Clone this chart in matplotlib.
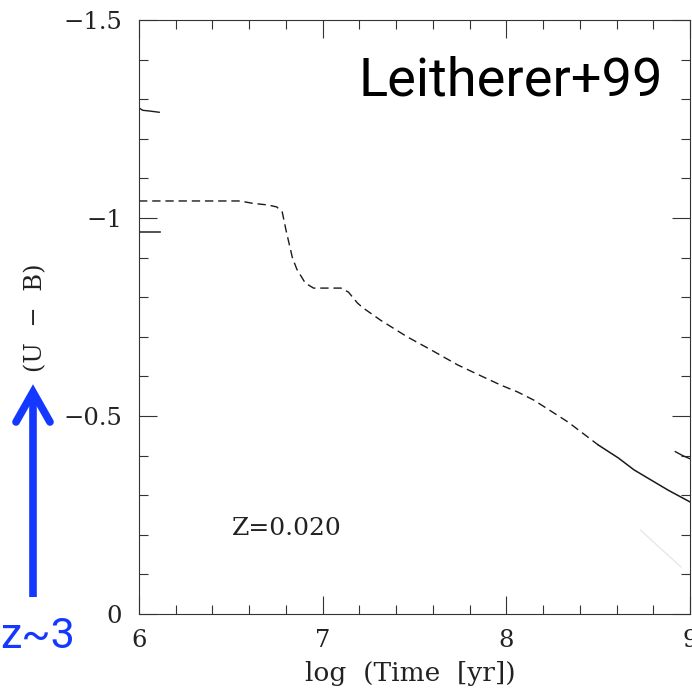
import matplotlib
matplotlib.use("Agg")
import matplotlib.pyplot as plt
from matplotlib.lines import Line2D
from matplotlib.ticker import MultipleLocator, FuncFormatter

# U-B colour evolution of a Z=0.020 population (log age in years)
log_t_dashed = [6.00, 6.55, 6.62, 6.70, 6.75, 6.78, 6.80, 6.835, 6.86, 6.905,
                6.95, 7.10, 7.14, 7.19, 7.22, 7.315, 7.46, 7.59, 7.735, 7.877,
                7.97, 8.06, 8.15, 8.335, 8.50]
ub_dashed = [-1.043, -1.043, -1.037, -1.033, -1.028, -1.015, -0.970, -0.900,
             -0.870, -0.836, -0.823, -0.823, -0.813, -0.785, -0.773, -0.742,
             -0.700, -0.667, -0.629, -0.598, -0.578, -0.561, -0.540, -0.485,
             -0.427]
log_t_solid = [8.50, 8.61, 8.695, 8.88, 9.00]
ub_solid = [-0.427, -0.394, -0.364, -0.313, -0.283]

# short pieces of neighbouring tracks at the plot edges
log_t_piece_a = [6.00, 6.02, 6.06, 6.11]
ub_piece_a = [-1.278, -1.272, -1.270, -1.267]
log_t_piece_b = [6.00, 6.115]
ub_piece_b = [-0.965, -0.965]
log_t_piece_c = [8.92, 8.96, 9.00]
ub_piece_c = [-0.410, -0.400, -0.392]
log_t_faint = [8.73, 8.95]
ub_faint = [-0.212, -0.119]

x_ticks = [6, 7, 8, 9]
y_ticks = [-1.5, -1.0, -0.5, 0.0]

W, H = 692, 688
fig = plt.figure(figsize=(W / 100, H / 100), dpi=100)
fig.patch.set_facecolor("white")

ax_l, ax_r, ax_t, ax_b = 139, 690, 20, 614
ax = fig.add_axes([ax_l / W, 1 - ax_b / H, (ax_r - ax_l) / W, (ax_b - ax_t) / H])

ink = "#1a1a1a"
ax.plot(log_t_dashed, ub_dashed, color=ink, lw=1.0, dashes=(6.0, 3.5))
ax.plot(log_t_solid, ub_solid, color=ink, lw=1.1)
ax.plot(log_t_piece_a, ub_piece_a, color=ink, lw=1.0)
ax.plot(log_t_piece_b, ub_piece_b, color="#333333", lw=1.2)
ax.plot(log_t_piece_c, ub_piece_c, color=ink, lw=1.0)
ax.plot(log_t_faint, ub_faint, color="#e8e8e8", lw=1.0)

ax.set_xlim(6, 9)
ax.set_ylim(0, -1.5)

serif = "DejaVu Serif"
ax.xaxis.set_minor_locator(MultipleLocator(0.2))
ax.yaxis.set_minor_locator(MultipleLocator(0.1))
ax.set_xticks(x_ticks)
ax.set_yticks(y_ticks)
ax.yaxis.set_major_formatter(FuncFormatter(lambda v, p: f"{v:g}".replace("-", "\u2212")))
ax.xaxis.set_major_formatter(FuncFormatter(lambda v, p: f"{v:g}"))

ax.tick_params(which="both", direction="in", top=True, right=True,
               color="#333333", width=0.8)
ax.tick_params(which="major", length=13)
ax.tick_params(which="minor", length=6.5)
ax.tick_params(axis="y", which="major", pad=12)
ax.tick_params(axis="x", which="major", pad=11)
for lab in ax.get_xticklabels() + ax.get_yticklabels():
    lab.set_fontfamily(serif)
    lab.set_fontsize(17.5)
    lab.set_color("#222222")
for sp in ax.spines.values():
    sp.set_color("#333333")
    sp.set_linewidth(0.8)

fig.text(410 / W, 1 - 673 / H, "log  (Time  [yr])", family=serif, fontsize=19,
         color="#222222", ha="center", va="center")
fig.text(36 / W, 1 - 318 / H, "(U  \u2212  B)", family=serif, fontsize=17.5,
         color="#222222", ha="center", va="center", rotation=90)

ax.text((232 - ax_l) / (ax_r - ax_l), (ax_b - 535) / (ax_b - ax_t), "Z=0.020",
        transform=ax.transAxes, family=serif, fontsize=18, color="#222222",
        ha="left", va="baseline")

ax.text((663 - ax_l) / (ax_r - ax_l), (ax_b - 95) / (ax_b - ax_t), "Leitherer+99",
        transform=ax.transAxes, family="Roboto", fontsize=39, color="black",
        ha="right", va="baseline")

# blue arrow and redshift label
blue = "#1438ff"
shaft = Line2D([33 / W, 33 / W], [1 - 597 / H, 1 - 394 / H], transform=fig.transFigure,
               color=blue, lw=5.5, solid_capstyle="butt")
head = Line2D([16 / W, 33 / W, 50 / W], [1 - 422 / H, 1 - 392 / H, 1 - 422 / H],
              transform=fig.transFigure, color=blue, lw=5.5,
              solid_capstyle="round", solid_joinstyle="miter")
fig.add_artist(shaft)
fig.add_artist(head)
fig.text(75 / W, 1 - 648 / H, "z~3", family="Roboto", fontsize=31, color=blue,
         ha="right", va="baseline")

fig.savefig("out.png", dpi=100, facecolor="white")
